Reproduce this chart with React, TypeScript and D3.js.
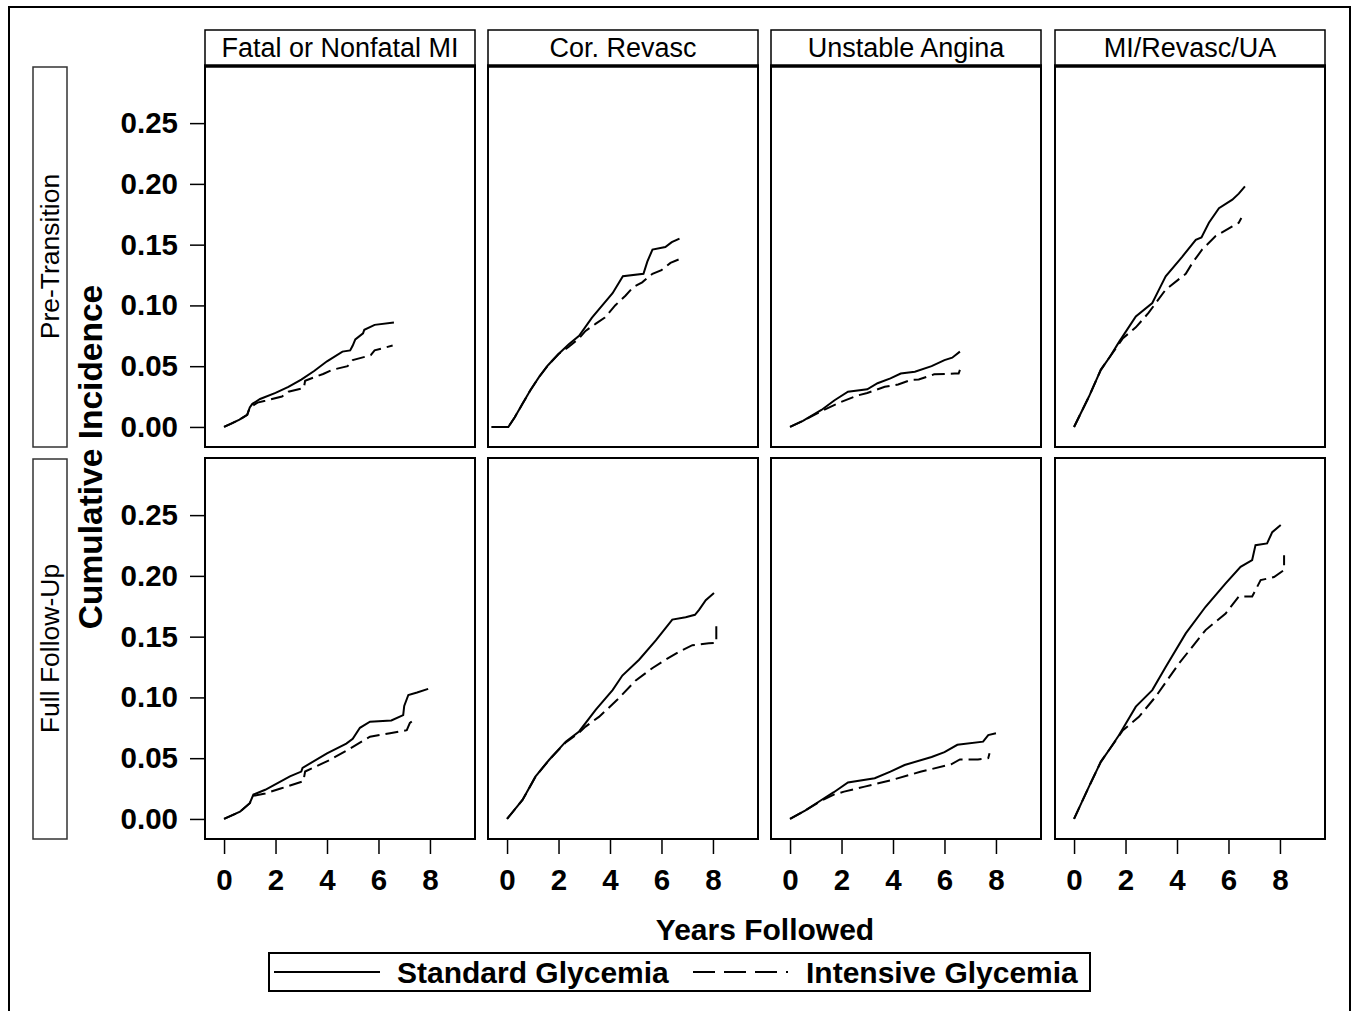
import React, { useEffect, useRef } from 'react'
import * as d3 from 'd3'

type Pt = [number, number]

const outcomes = ['Fatal or Nonfatal MI', 'Cor. Revasc', 'Unstable Angina', 'MI/Revasc/UA']
const periods = ['Pre-Transition', 'Full Follow-Up']
const seriesNames = ['Standard Glycemia', 'Intensive Glycemia']
const yTicks = [0, 0.05, 0.1, 0.15, 0.2, 0.25]
const xTicks = [0, 2, 4, 6, 8]

// pre-transition
const miPreStd: Pt[] = [[0, 0], [0.3, 0.003], [0.6, 0.006], [0.9, 0.010], [1.0, 0.016], [1.1, 0.019], [1.4, 0.023], [2.0, 0.028], [2.5, 0.033], [3.0, 0.039], [3.5, 0.046], [4.0, 0.054], [4.6, 0.062], [4.9, 0.063], [5.0, 0.067], [5.1, 0.072], [5.4, 0.077], [5.45, 0.080], [5.85, 0.084], [6.6, 0.086]]
const miPreInt: Pt[] = [[0, 0], [0.3, 0.003], [0.6, 0.006], [0.9, 0.010], [1.0, 0.016], [1.3, 0.020], [1.6, 0.0215], [2.25, 0.025], [2.5, 0.029], [3.1, 0.032], [3.15, 0.038], [3.85, 0.0436], [4.2, 0.047], [4.8, 0.050], [5.0, 0.055], [5.7, 0.059], [5.85, 0.063], [6.55, 0.067]]
const revPreStd: Pt[] = [[-0.6, 0], [0.05, 0], [0.3, 0.008], [0.6, 0.019], [0.9, 0.030], [1.24, 0.041], [1.6, 0.051], [2.0, 0.060], [2.4, 0.068], [2.8, 0.075], [3.3, 0.090], [3.7, 0.100], [4.1, 0.110], [4.5, 0.124], [5.3, 0.126], [5.45, 0.136], [5.65, 0.146], [6.15, 0.148], [6.4, 0.152], [6.7, 0.155]]
const revPreInt: Pt[] = [[-0.6, 0], [0.05, 0], [0.3, 0.008], [0.6, 0.019], [0.9, 0.030], [1.24, 0.041], [1.6, 0.051], [2.0, 0.060], [2.4, 0.066], [2.8, 0.073], [3.05, 0.079], [3.45, 0.085], [3.8, 0.090], [4.2, 0.100], [4.6, 0.108], [4.9, 0.115], [5.25, 0.119], [5.65, 0.126], [6.0, 0.129], [6.35, 0.135], [6.8, 0.139]]
const uaPreStd: Pt[] = [[0, 0], [0.5, 0.005], [1.22, 0.014], [1.73, 0.022], [2.25, 0.029], [3.0, 0.031], [3.4, 0.036], [3.9, 0.040], [4.3, 0.044], [4.85, 0.0455], [5.5, 0.050], [6.0, 0.055], [6.3, 0.057], [6.6, 0.062]]
const uaPreInt: Pt[] = [[0, 0], [0.5, 0.005], [1.22, 0.013], [1.86, 0.0195], [2.64, 0.026], [3.0, 0.028], [3.68, 0.033], [4.2, 0.035], [4.7, 0.0387], [5.0, 0.039], [5.6, 0.0433], [6.4, 0.044], [6.55, 0.044], [6.6, 0.047]]
const allPreStd: Pt[] = [[0, 0], [0.58, 0.025], [1.04, 0.047], [1.4, 0.058], [1.75, 0.070], [2.4, 0.091], [3.04, 0.102], [3.3, 0.113], [3.56, 0.124], [4.2, 0.140], [4.73, 0.154], [4.95, 0.156], [5.24, 0.168], [5.63, 0.180], [6.15, 0.187], [6.4, 0.192], [6.64, 0.198]]
const allPreInt: Pt[] = [[0, 0], [0.58, 0.025], [1.04, 0.047], [1.4, 0.058], [1.9, 0.073], [2.4, 0.082], [2.9, 0.094], [3.56, 0.113], [4.34, 0.126], [4.6, 0.135], [4.98, 0.146], [5.5, 0.157], [6.15, 0.165], [6.4, 0.168], [6.5, 0.172]]

// full follow-up
const miFullStd: Pt[] = [[0, 0], [0.62, 0.006], [1.0, 0.013], [1.14, 0.020], [1.6, 0.024], [2.56, 0.035], [3.0, 0.039], [3.05, 0.042], [4.0, 0.054], [4.75, 0.062], [5.0, 0.066], [5.28, 0.075], [5.67, 0.080], [6.5, 0.081], [6.96, 0.0855], [7.0, 0.093], [7.16, 0.102], [7.5, 0.104], [7.93, 0.107]]
const miFullInt: Pt[] = [[0, 0], [0.62, 0.006], [1.0, 0.013], [1.14, 0.019], [1.6, 0.021], [2.2, 0.025], [3.08, 0.031], [3.15, 0.039], [4.1, 0.0485], [4.9, 0.058], [5.67, 0.0677], [6.45, 0.0705], [7.1, 0.073], [7.22, 0.079], [7.46, 0.083]]
const revFullStd: Pt[] = [[0, 0], [0.6, 0.0156], [1.11, 0.035], [1.63, 0.0485], [2.28, 0.0636], [2.8, 0.072], [3.45, 0.090], [4.1, 0.106], [4.48, 0.118], [5.13, 0.131], [5.78, 0.147], [6.42, 0.164], [6.94, 0.166], [7.3, 0.168], [7.46, 0.172], [7.72, 0.180], [8.04, 0.186]]
const revFullInt: Pt[] = [[0, 0], [0.6, 0.0156], [1.11, 0.035], [1.63, 0.0485], [2.28, 0.063], [2.8, 0.071], [3.05, 0.076], [3.57, 0.084], [4.28, 0.098], [5.0, 0.114], [5.64, 0.124], [6.16, 0.131], [6.68, 0.1376], [7.2, 0.143], [7.84, 0.1445], [8.13, 0.145], [8.13, 0.1595]]
const uaFullStd: Pt[] = [[0, 0], [0.6, 0.007], [1.22, 0.0156], [1.7, 0.022], [2.25, 0.030], [3.29, 0.0335], [3.9, 0.039], [4.45, 0.0444], [5.5, 0.051], [6.0, 0.055], [6.5, 0.061], [7.5, 0.0636], [7.7, 0.069], [8.0, 0.0705]]
const uaFullInt: Pt[] = [[0, 0], [0.6, 0.007], [1.22, 0.015], [1.7, 0.020], [2.1, 0.0225], [2.9, 0.0266], [3.95, 0.032], [5.1, 0.039], [6.26, 0.045], [6.6, 0.049], [7.3, 0.049], [7.7, 0.050], [7.75, 0.054]]
const allFullStd: Pt[] = [[0, 0], [0.58, 0.0266], [1.04, 0.047], [1.4, 0.058], [1.75, 0.069], [2.4, 0.0924], [3.04, 0.106], [3.56, 0.125], [4.34, 0.1527], [5.11, 0.1746], [5.89, 0.1938], [6.47, 0.2075], [6.92, 0.213], [7.05, 0.2253], [7.5, 0.2267], [7.7, 0.236], [8.03, 0.2418]]
const allFullInt: Pt[] = [[0, 0], [0.58, 0.0266], [1.04, 0.047], [1.4, 0.058], [1.9, 0.073], [2.52, 0.084], [3.17, 0.1006], [4.08, 0.128], [5.11, 0.1554], [5.89, 0.169], [6.4, 0.183], [6.92, 0.183], [7.25, 0.1965], [7.77, 0.199], [8.16, 0.2048], [8.16, 0.217]]

const panels: Pt[][][][] = [
  [[miPreStd, miPreInt], [revPreStd, revPreInt], [uaPreStd, uaPreInt], [allPreStd, allPreInt]],
  [[miFullStd, miFullInt], [revFullStd, revFullInt], [uaFullStd, uaFullInt], [allFullStd, allFullInt]],
]

const FONT = "'Liberation Sans', Arial, sans-serif"

export default function App() {
  const ref = useRef<SVGSVGElement | null>(null)

  useEffect(() => {
    const svg = d3.select(ref.current!)
    svg.selectAll('*').remove()
    const H = 1011
    const colLeft = [205, 488, 771, 1055]
    const panelW = 270
    const rowTop = [66, 458]
    const panelH = 381
    const headTop = 30

    svg.append('rect').attr('x', 9).attr('y', 7).attr('width', 1341).attr('height', H + 10)
      .attr('fill', 'white').attr('stroke', '#000').attr('stroke-width', 2)

    const line = (x: d3.ScaleLinear<number, number>, y: d3.ScaleLinear<number, number>) =>
      d3.line<Pt>().x(d => x(d[0])).y(d => y(d[1]))

    rowTop.forEach((top, r) => {
      const y = d3.scaleLinear().domain([-0.0165, 0.297]).range([top + panelH, top])

      // row label strip
      svg.append('rect').attr('x', 33).attr('y', top + 1).attr('width', 34).attr('height', panelH - 1)
        .attr('fill', 'white').attr('stroke', '#333').attr('stroke-width', 1.5)
      svg.append('text').attr('transform', `translate(58.5,${top + panelH / 2}) rotate(-90)`)
        .attr('text-anchor', 'middle').attr('font-family', FONT).attr('font-size', 26.5)
        .text(periods[r])

      // y axis on left column
      const ya = svg.append('g').attr('transform', `translate(${colLeft[0]},0)`)
        .call(d3.axisLeft(y).tickValues(yTicks).tickSize(15).tickPadding(12).tickFormat(d3.format('.2f')))
      ya.select('.domain').remove()
      ya.selectAll('line').attr('stroke', '#000').attr('stroke-width', 1.5)
      ya.selectAll('text').attr('font-family', FONT).attr('font-size', 29.5).attr('font-weight', 700).attr('fill', '#000')

      colLeft.forEach((left, c) => {
        const x = d3.scaleLinear().domain([-0.74, 9.75]).range([left, left + panelW])
        const g = svg.append('g')
        if (r === 0) {
          g.append('rect').attr('x', left).attr('y', headTop).attr('width', panelW).attr('height', top - headTop)
            .attr('fill', 'white').attr('stroke', '#000').attr('stroke-width', 1.5)
          g.append('text').attr('x', left + panelW / 2).attr('y', headTop + 27).attr('text-anchor', 'middle')
            .attr('font-family', FONT).attr('font-size', 27).text(outcomes[c])
        }
        g.append('rect').attr('x', left).attr('y', top).attr('width', panelW).attr('height', panelH)
          .attr('fill', 'white').attr('stroke', '#000').attr('stroke-width', 2)
        if (r === 0) {
          g.append('line').attr('x1', left - 1).attr('x2', left + panelW + 1).attr('y1', top).attr('y2', top)
            .attr('stroke', '#000').attr('stroke-width', 3.5)
        }
        const [std, int] = panels[r][c]
        g.append('path').attr('d', line(x, y)(int)!).attr('fill', 'none').attr('stroke', '#000')
          .attr('stroke-width', 2).attr('stroke-dasharray', '13,6')
        g.append('path').attr('d', line(x, y)(std)!).attr('fill', 'none').attr('stroke', '#000')
          .attr('stroke-width', 2)

        if (r === 1) {
          const xa = g.append('g').attr('transform', `translate(0,${top + panelH})`)
            .call(d3.axisBottom(x).tickValues(xTicks).tickSize(15).tickPadding(15).tickFormat(d3.format('d')))
          xa.select('.domain').remove()
          xa.selectAll('line').attr('stroke', '#000').attr('stroke-width', 1.5)
          xa.selectAll('text').attr('font-family', FONT).attr('font-size', 29.5).attr('font-weight', 700).attr('fill', '#000')
        }
      })
    })

    svg.append('text').attr('transform', 'translate(102,457) rotate(-90)').attr('text-anchor', 'middle')
      .attr('font-family', FONT).attr('font-size', 33.5).attr('font-weight', 700).text('Cumulative Incidence')
    svg.append('text').attr('x', 765).attr('y', 940).attr('text-anchor', 'middle')
      .attr('font-family', FONT).attr('font-size', 30).attr('font-weight', 700).text('Years Followed')

    // legend
    const lg = svg.append('g')
    lg.append('rect').attr('x', 269).attr('y', 953).attr('width', 821).attr('height', 38)
      .attr('fill', 'white').attr('stroke', '#000').attr('stroke-width', 2)
    lg.append('line').attr('x1', 274).attr('x2', 380).attr('y1', 972).attr('y2', 972).attr('stroke', '#000').attr('stroke-width', 2)
    lg.append('text').attr('x', 397).attr('y', 983).attr('font-family', FONT).attr('font-size', 30)
      .attr('font-weight', 700).text(seriesNames[0])
    lg.append('line').attr('x1', 693).attr('x2', 791).attr('y1', 972).attr('y2', 972).attr('stroke', '#000')
      .attr('stroke-width', 2).attr('stroke-dasharray', '22,9,22,9,22,9,2')
    lg.append('text').attr('x', 806).attr('y', 983).attr('font-family', FONT).attr('font-size', 30)
      .attr('font-weight', 700).text(seriesNames[1])
  }, [])

  return <svg ref={ref} width={1354} height={1011} style={{ position: 'absolute', left: 0, top: 0, background: 'white' }} />
}
